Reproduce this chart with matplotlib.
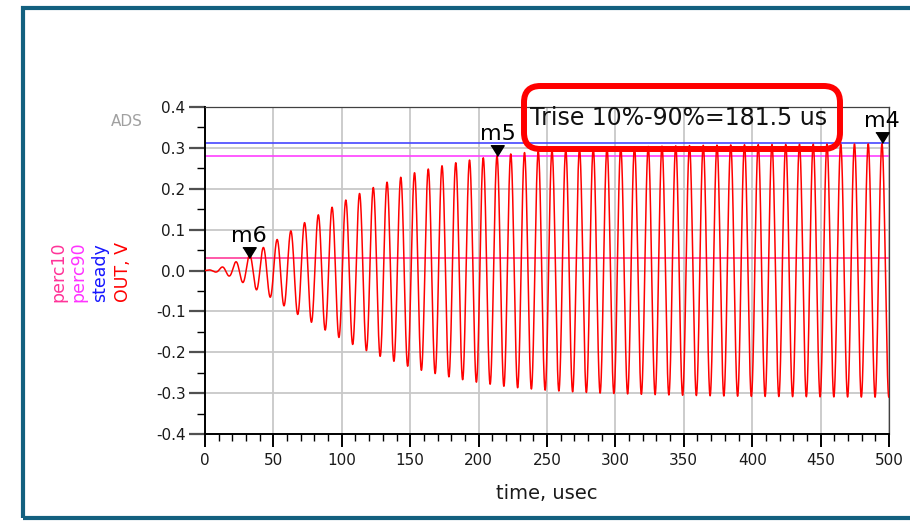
import numpy as np
import matplotlib
matplotlib.use("Agg")
import matplotlib.pyplot as plt
from matplotlib.patches import FancyBboxPatch, Rectangle
from matplotlib.ticker import MultipleLocator, FormatStrFormatter

plt.rcParams['font.family'] = ['DejaVu Sans']
plt.rcParams['axes.unicode_minus'] = False

# ---- data ----
# envelope of the OUT waveform (usec, V)
env_t = [0, 8, 18, 28, 38, 48, 58, 68, 78, 88, 98, 108, 118, 128, 138, 148,
         158, 168, 178, 188, 198, 210, 220, 235, 250, 270, 290, 320, 360, 400,
         450, 500]
env_amp = [0.0, 0.004, 0.014, 0.030, 0.048, 0.066, 0.087, 0.108, 0.127, 0.146,
           0.164, 0.181, 0.196, 0.210, 0.222, 0.234, 0.244, 0.252, 0.260, 0.267,
           0.273, 0.279, 0.284, 0.289, 0.293, 0.297, 0.300, 0.303, 0.306, 0.308,
           0.309, 0.310]
carrier_period_us = 10.05
first_peak_us = 2.4

steady = 0.3125
perc90 = 0.28125
perc10 = 0.03125

marker_names = ['m6', 'm5', 'm4']
marker_t = [32.4, 213.8, 495.0]
marker_v = [perc10, perc90, steady]

trise_text = 'Trise 10%-90%=181.5 us'
y_labels = ['perc10', 'perc90', 'steady', 'OUT, V']
y_label_colors = ['#ff3399', '#ff33ff', '#1515ff', '#ff0000']
x_label = 'time, usec'

# ---- build waveform ----
t = np.linspace(0, 500, 25001)
env = np.interp(t, env_t, env_amp)
out = env * np.cos(2 * np.pi * (t - first_peak_us) / carrier_period_us)

W, H = 910, 522
fig = plt.figure(figsize=(W / 100, H / 100), dpi=100)
ax = fig.add_axes([205 / W, 1 - 434 / H, (889 - 205) / W, (434 - 107) / H])

ax.set_xlim(0, 500)
ax.set_ylim(-0.4, 0.4)
ax.xaxis.set_major_locator(MultipleLocator(50))
ax.xaxis.set_minor_locator(MultipleLocator(10))
ax.yaxis.set_major_locator(MultipleLocator(0.1))
ax.yaxis.set_minor_locator(MultipleLocator(0.05))
ax.yaxis.set_major_formatter(FormatStrFormatter('%.1f'))
ax.grid(True, which='major', color='#c8c8c8', lw=1.3, zorder=0)

ax.tick_params(axis='y', which='major', direction='out', length=11.5, width=1.6,
               color='#505050', labelsize=11, pad=2.5, labelcolor='#1a1a1a')
ax.tick_params(axis='y', which='minor', direction='out', length=5.8, width=1.0,
               color='black')
ax.tick_params(axis='x', which='major', direction='out', length=9.4, width=1.4,
               color='black', labelsize=11, pad=4.3, labelcolor='#1a1a1a')
ax.tick_params(axis='x', which='minor', direction='out', length=5.0, width=1.0,
               color='black')
for s in ['left', 'bottom']:
    ax.spines[s].set_color('black')
    ax.spines[s].set_linewidth(1.4)
for s in ['top', 'right']:
    ax.spines[s].set_color('#404040')
    ax.spines[s].set_linewidth(0.9)

ax.axhline(steady, color='#4646ff', lw=1.2, zorder=2)
ax.axhline(perc90, color='#ff40ff', lw=1.2, zorder=2)
ax.axhline(perc10, color='#ff3c9a', lw=1.2, zorder=2)
ax.plot(t, out, color='#ff0000', lw=1.1, zorder=3)

tri = [(-0.62, 1.0), (0.62, 1.0), (0.0, 0.0)]
for name, mt, mv in zip(marker_names, marker_t, marker_v):
    ax.plot([mt], [mv], marker=tri, markersize=15.5, color='black', ls='none',
            zorder=5, clip_on=False)
    ax.annotate(name, (mt, mv), xytext=(0, 16), textcoords='offset pixels',
                ha='center', va='baseline', fontsize=16, color='black',
                zorder=6, annotation_clip=False)

ax.set_xlabel(x_label, fontsize=14, color='#1a1a1a')
ax.xaxis.set_label_coords(0.5, (434 - 484) / (434 - 107), transform=ax.transAxes)

# stacked vertical y labels
for i, (lab, col) in enumerate(zip(y_labels, y_label_colors)):
    xc = [58, 78.5, 100.5, 123][i]
    fig.text(xc / W, 1 - 302 / H, lab, rotation=90, ha='center', va='bottom',
             fontsize=12.5, color=col)

fig.text(143 / W, 1 - 122 / H, 'ADS', ha='right', va='center', fontsize=11,
         color='#a0a0a0')

# Trise annotation
fig.text(678.5 / W, 1 - 125 / H, trise_text, ha='center', va='baseline',
         fontsize=17, color='#111111', zorder=10)
box = FancyBboxPatch((524 / W, 1 - 149 / H), (840 - 524) / W, (149 - 86) / H,
                     boxstyle='round,pad=0,rounding_size=0.018',
                     transform=fig.transFigure, fill=False, ec='#ff0000',
                     lw=4.3, zorder=11, mutation_aspect=W / H)
fig.add_artist(box)

# outer frame
frame = Rectangle((23 / W, 1 - 518 / H), 1.2, (518 - 7.5) / H,
                  transform=fig.transFigure, fill=False, ec='#13607f', lw=3.0,
                  zorder=12, clip_on=False)
fig.add_artist(frame)

fig.savefig('out.png', dpi=100)
